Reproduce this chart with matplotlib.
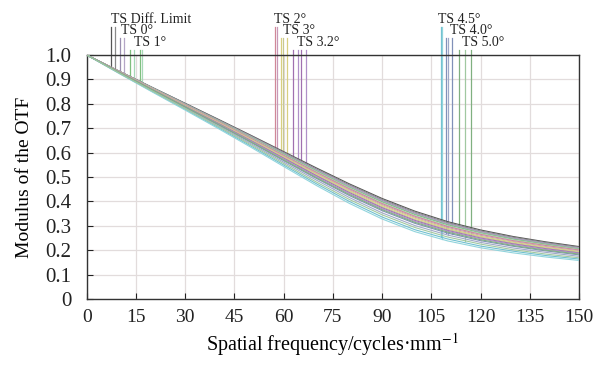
import numpy as np
import matplotlib
matplotlib.use('Agg')
import matplotlib.pyplot as plt

plt.rcParams['font.family'] = ['Liberation Serif', 'DejaVu Serif']
plt.rcParams['mathtext.fontset'] = 'stix'

# spatial frequency samples (cycles/mm)
freq = [0, 10, 20, 30, 40, 50, 60, 70, 80, 90, 100, 110, 120, 130, 140, 150]

# MTF curves, T and S for each field
diff_t = [1.0, 0.933, 0.867, 0.802, 0.737, 0.671, 0.604, 0.537, 0.472, 0.412, 0.360, 0.317, 0.283, 0.256, 0.234, 0.215]
diff_s = [1.0, 0.932, 0.866, 0.801, 0.735, 0.669, 0.601, 0.533, 0.468, 0.408, 0.356, 0.313, 0.279, 0.253, 0.231, 0.212]
f0_t = [1.0, 0.932, 0.865, 0.799, 0.733, 0.666, 0.598, 0.530, 0.464, 0.404, 0.352, 0.309, 0.276, 0.249, 0.228, 0.209]
f0_s = [1.0, 0.932, 0.865, 0.798, 0.732, 0.665, 0.596, 0.528, 0.462, 0.401, 0.349, 0.307, 0.274, 0.247, 0.226, 0.208]
f1_t = [1.0, 0.931, 0.864, 0.797, 0.731, 0.663, 0.594, 0.525, 0.458, 0.398, 0.346, 0.304, 0.271, 0.245, 0.224, 0.205]
f1_s = [1.0, 0.931, 0.863, 0.796, 0.729, 0.661, 0.591, 0.522, 0.455, 0.394, 0.342, 0.300, 0.268, 0.242, 0.221, 0.203]
f2_t = [1.0, 0.931, 0.862, 0.795, 0.728, 0.659, 0.589, 0.519, 0.452, 0.391, 0.339, 0.297, 0.265, 0.239, 0.219, 0.201]
f2_s = [1.0, 0.930, 0.861, 0.794, 0.726, 0.656, 0.586, 0.515, 0.448, 0.387, 0.335, 0.293, 0.261, 0.236, 0.215, 0.198]
f3_t = [1.0, 0.930, 0.860, 0.792, 0.724, 0.654, 0.583, 0.512, 0.444, 0.383, 0.331, 0.289, 0.257, 0.233, 0.212, 0.195]
f3_s = [1.0, 0.929, 0.859, 0.791, 0.722, 0.651, 0.580, 0.508, 0.440, 0.378, 0.326, 0.285, 0.254, 0.229, 0.209, 0.192]
f32_t = [1.0, 0.929, 0.858, 0.789, 0.720, 0.649, 0.577, 0.505, 0.436, 0.374, 0.322, 0.281, 0.250, 0.226, 0.206, 0.189]
f32_s = [1.0, 0.928, 0.858, 0.788, 0.718, 0.647, 0.574, 0.501, 0.432, 0.370, 0.318, 0.278, 0.247, 0.223, 0.203, 0.187]
f45_t = [1.0, 0.924, 0.850, 0.777, 0.703, 0.627, 0.549, 0.472, 0.400, 0.336, 0.284, 0.246, 0.217, 0.196, 0.178, 0.164]
f45_s = [1.0, 0.923, 0.848, 0.774, 0.699, 0.622, 0.543, 0.465, 0.392, 0.328, 0.276, 0.238, 0.210, 0.189, 0.172, 0.158]
f40_t = [1.0, 0.927, 0.856, 0.785, 0.714, 0.642, 0.567, 0.494, 0.424, 0.362, 0.310, 0.270, 0.239, 0.216, 0.197, 0.181]
f40_s = [1.0, 0.926, 0.854, 0.782, 0.710, 0.637, 0.561, 0.487, 0.416, 0.353, 0.301, 0.262, 0.232, 0.209, 0.191, 0.175]
f50_t = [1.0, 0.928, 0.857, 0.787, 0.716, 0.644, 0.570, 0.497, 0.428, 0.366, 0.314, 0.274, 0.243, 0.219, 0.200, 0.184]
f50_s = [1.0, 0.925, 0.852, 0.780, 0.707, 0.632, 0.555, 0.479, 0.408, 0.345, 0.293, 0.254, 0.225, 0.202, 0.184, 0.169]

curves = [diff_t, diff_s, f0_t, f0_s, f1_t, f1_s, f2_t, f2_s, f3_t, f3_s,
          f32_t, f32_s, f45_t, f45_s, f40_t, f40_s, f50_t, f50_s]
colors = ['#555555', '#8a8a8a', '#9a8fb0', '#b4a6c6', '#7fbf7f', '#a8d8b8',
          '#d08898', '#c898b8', '#d8cf80', '#c8c890', '#a070b0', '#b090c8',
          '#70c0d0', '#90d4dc', '#8090b8', '#a0a8c8', '#80b080', '#a0c8a0']

# label text, label x, level, marker x positions, curve index for each marker
labels = ['TS Diff. Limit', 'TS 0°', 'TS 1°',
          'TS 2°', 'TS 3°', 'TS 3.2°',
          'TS 4.5°', 'TS 4.0°', 'TS 5.0°']
label_x = [7.3, 10.4, 14.4, 57.1, 59.9, 64.2, 106.9, 110.6, 114.3]
label_lvl = [0, 1, 2, 0, 1, 2, 0, 1, 2]
marker_x = [[7.3, 8.6], [10.1, 11.3], [13.1, 14.4, 16.2, 16.8],
            [57.4, 58.1], [59.3, 59.9, 61.1], [62.9, 64.5, 65.4, 66.9],
            [107.9, 108.2], [109.4, 110.0, 111.2], [113.4, 115.2, 117.1]]
marker_curve = [[0, 1], [2, 3], [4, 5, 4, 5],
                [6, 7], [8, 9, 8], [10, 11, 10, 11],
                [12, 13], [14, 15, 14], [16, 17, 16]]
line_top = [1.115, 1.068, 1.022]
text_y = [1.132, 1.085, 1.038]

fig = plt.figure(figsize=(5.95, 3.68), dpi=100)
ax = fig.add_axes([0.146, 0.1875, 0.827, 0.663])

for c, col in zip(curves, colors):
    ax.plot(freq, c, '-', color=col, linewidth=0.8, zorder=3)

for i in range(len(labels)):
    lvl = label_lvl[i]
    for mx, ci in zip(marker_x[i], marker_curve[i]):
        ybot = np.interp(mx, freq, curves[ci])
        ax.plot([mx, mx], [ybot, line_top[lvl]], '-', color=colors[ci],
                linewidth=0.9, clip_on=False, zorder=2)
    ax.text(label_x[i], text_y[lvl], labels[i], fontsize=10, ha='left',
            va='baseline', color='#222222', clip_on=False)

ax.set_xlim(0, 150)
ax.set_ylim(0, 1.0)
ax.set_xticks(np.arange(0, 151, 15))
yt = np.round(np.arange(0, 1.01, 0.1), 1)
ax.set_yticks(yt)
ax.set_yticklabels(['0'] + ['%.1f' % v for v in yt[1:]])
ax.tick_params(direction='in', length=4, width=0.8, colors='#222222')
ax.tick_params(axis='x', labelsize=14, pad=7)
ax.tick_params(axis='y', labelsize=15, pad=11)
ax.grid(True, color='#e2dcdc', linewidth=0.9, zorder=0)
ax.set_axisbelow(True)
for s in ax.spines.values():
    s.set_linewidth(1.0)
    s.set_color('#333333')

ax.set_xlabel('Spatial frequency/cycles·mm$^{-1}$', fontsize=14.5, labelpad=4)
ax.set_ylabel('Modulus of the OTF', fontsize=14, labelpad=9)

fig.savefig('out.png', dpi=100)
plt.close()
